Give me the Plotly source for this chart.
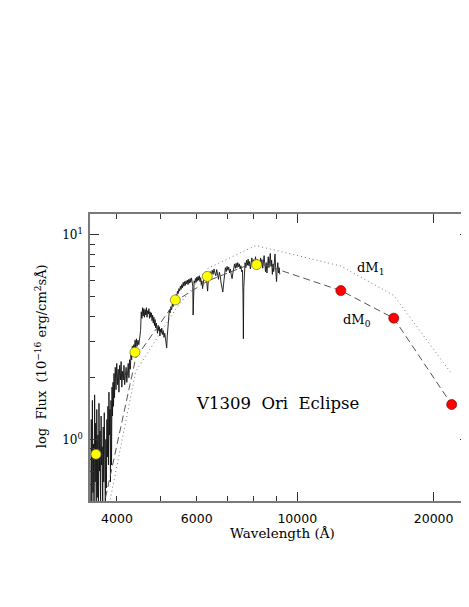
import numpy as np
import plotly.graph_objects as go

# Spectrum of V1309 Ori in eclipse
# wavelength (Angstrom) / flux (1e-16 erg/cm2/s/A)
spec_wl = [
    3500, 3510, 3520, 3530, 3540, 3550, 3560, 3570, 3580, 3590,
    3600, 3610, 3620, 3630, 3640, 3650, 3660, 3670, 3680, 3690,
    3700, 3710, 3720, 3730, 3740, 3750, 3760, 3770, 3780, 3790,
    3800, 3810, 3820, 3830, 3840, 3850, 3860, 3870, 3880, 3890,
    3900, 3910, 3920, 3930, 3940, 3950,
    3965, 3980, 3995, 4010, 4025, 4040, 4055, 4070, 4085, 4100,
    4115, 4130, 4145, 4160, 4175, 4190, 4205, 4220, 4235, 4250,
    4265, 4280, 4295, 4310, 4325, 4340, 4355, 4370, 4385, 4400,
    4415, 4430, 4450, 4470, 4490,
    4510, 4525, 4540, 4555, 4570, 4585, 4600, 4615, 4630, 4645,
    4660, 4675, 4690, 4705, 4720, 4735, 4750, 4765, 4780, 4795,
    4810, 4825, 4840, 4855, 4870, 4885, 4900, 4915, 4930, 4945,
    4960, 4975, 4990, 5005, 5020, 5040, 5060, 5080, 5100, 5120,
    5140, 5150, 5165, 5180, 5200, 5220, 5240, 5260, 5280, 5300,
    5320, 5340,
    5360, 5380, 5400, 5420, 5440, 5460, 5480, 5500, 5520, 5540,
    5560, 5580, 5600, 5620, 5640, 5660, 5680, 5700, 5720, 5740,
    5760, 5780, 5800, 5820, 5840, 5860, 5880, 5890, 5900, 5920,
    5940, 5960, 5980, 6000, 6020, 6040, 6060, 6080, 6100, 6120,
    6140, 6160, 6180, 6200, 6220, 6240, 6260, 6280, 6300,
    6320, 6340, 6360, 6380, 6400, 6430, 6460, 6490, 6520, 6550,
    6580, 6610, 6640, 6670, 6700, 6730, 6760, 6790, 6820, 6850,
    6880, 6910, 6940, 6970, 7000, 7030, 7060, 7090, 7120, 7150,
    7180, 7210, 7240, 7270, 7300, 7330, 7360, 7390, 7420, 7450,
    7480, 7510, 7540, 7570, 7590, 7605, 7620, 7640, 7670,
    7700, 7730, 7760, 7790, 7820, 7850, 7880, 7910, 7940, 7970,
    8000, 8030, 8060, 8090, 8120, 8150, 8180, 8210, 8240, 8270,
    8300, 8330, 8360, 8390, 8420, 8450, 8480, 8510, 8540, 8570,
    8600, 8630, 8660, 8690, 8720, 8750, 8780, 8810, 8840, 8870,
    8900, 8930, 8960, 9000, 9030, 9060, 9090, 9120, 9150,
]
spec_flux = [
    0.48, 1.25, 0.42, 1.55, 0.55, 0.95, 0.40, 1.65, 0.62, 1.20,
    0.45, 1.40, 0.52, 1.05, 0.42, 1.50, 0.70, 1.10, 0.44, 1.30,
    0.75, 0.92, 0.46, 1.15, 0.62, 1.35, 0.80, 0.48, 1.00, 0.58,
    1.25, 0.82, 1.45, 0.75, 1.70, 1.05, 1.40, 0.62, 1.55, 0.75,
    1.80, 1.30, 1.90, 1.45, 2.10, 1.60,
    2.25, 1.75, 2.35, 1.85, 2.20, 1.70, 2.30, 1.95, 2.40, 1.80,
    2.15, 1.95, 2.30, 1.85, 2.05, 2.25, 1.90, 2.10, 2.35, 2.00,
    2.45, 2.20, 2.60, 2.45, 2.85, 2.55, 2.90, 2.70, 3.05, 2.80,
    3.10, 2.85, 3.05, 2.90, 3.10,
    3.40, 4.20, 3.90, 4.40, 4.00, 4.35, 3.95, 4.30, 4.05, 4.40,
    3.95, 4.25, 4.10, 4.35, 3.90, 4.20, 3.95, 4.15, 3.80, 4.05,
    3.70, 3.95, 3.60, 3.85, 3.50, 3.70, 3.55, 3.30, 3.60, 3.40,
    3.55, 3.20, 3.45, 3.30, 3.50, 3.25, 3.40, 3.15, 3.30, 3.00,
    2.95, 2.80, 3.20, 3.60, 3.95, 4.30, 4.15, 4.45, 4.30, 4.60,
    4.45, 4.75,
    4.95, 4.80, 5.10, 5.00, 5.30, 5.15, 5.45, 5.30, 5.60, 5.40,
    5.70, 5.50, 5.85, 5.60, 5.90, 5.65, 5.95, 5.75, 6.00, 5.70,
    6.05, 5.80, 6.10, 5.85, 6.15, 5.90, 5.60, 4.05, 5.50, 5.95,
    5.80, 6.10, 5.85, 6.20, 5.95, 6.25, 6.00, 6.30, 5.90, 6.15,
    5.70, 5.95, 5.45, 5.75, 6.05, 6.35, 6.10, 6.45, 6.15,
    5.50, 5.30, 5.90, 6.40, 6.20, 6.60, 6.30, 6.70, 6.40, 6.80,
    6.50, 6.30, 6.75, 6.45, 6.05, 6.55, 6.30, 5.80, 5.40, 5.25,
    5.80, 6.50, 6.90, 6.60, 7.00, 6.70, 6.95, 6.50, 6.80, 6.35,
    6.10, 6.50, 6.90, 7.20, 6.85, 7.25, 6.90, 7.30, 6.95, 7.20,
    6.80, 7.05, 6.60, 6.70, 5.00, 3.10, 5.50, 6.80, 7.30,
    6.90, 7.50, 7.10, 7.60, 7.05, 7.40, 6.80, 7.30, 7.70, 7.20,
    7.55, 7.00, 7.45, 7.80, 7.25, 7.60, 7.10, 7.45, 6.90, 7.35,
    7.70, 7.15, 7.55, 6.85, 7.40, 7.90, 7.20, 6.60, 7.30, 6.50,
    7.10, 7.80, 6.90, 7.60, 8.10, 7.00, 7.50, 6.40, 7.20, 6.60,
    7.40, 8.05, 6.90, 5.90, 6.80, 7.30, 6.50, 6.90, 6.40,
]

# photometry: optical (yellow) and near-IR (red)
opt_wl = [3595, 4383, 5381, 6330, 8135]
opt_flux = [0.846, 2.665, 4.80, 6.25, 7.14]
ir_wl = [12480, 16330, 21920]
ir_flux = [5.33, 3.91, 1.48]

# model SEDs
model_wl = [3600, 4400, 5400, 6350, 8100, 12480, 16330, 21920]
dm0_flux = [0.32, 2.50, 4.75, 5.95, 7.35, 5.33, 3.91, 1.48]
dm1_flux = [0.23, 2.15, 4.35, 6.85, 8.85, 7.03, 5.05, 2.09]

x_ticks = [4000, 6000, 10000, 20000]
x_minor = [5000, 7000, 8000, 9000]
y_ticks = [1, 10]
y_ticktext = ["10<sup>0</sup>", "10<sup>1</sup>"]
y_minor = [0.6, 0.7, 0.8, 0.9, 2, 3, 4, 5, 6, 7, 8, 9]

X_RANGE = [3.5425, 4.3791]
Y_RANGE = [np.log10(0.5), 1.101]

AXIS_COLOR = "#7a7a7a"
TICK_COLOR = "#333333"
SERIF = "DejaVu Serif"

fig = go.Figure()

# spectrum
fig.add_trace(go.Scatter(
    x=spec_wl, y=spec_flux, mode="lines",
    line=dict(color="#111111", width=0.9), showlegend=False
))

# dM0 model (dashed)
fig.add_trace(go.Scatter(
    x=model_wl, y=dm0_flux, mode="lines",
    line=dict(color="#555555", width=1, dash="7px,4px"), showlegend=False
))

# dM1 model (dotted)
fig.add_trace(go.Scatter(
    x=model_wl, y=dm1_flux, mode="lines",
    line=dict(color="#777777", width=1, dash="1px,3px"), showlegend=False
))

# photometric points
fig.add_trace(go.Scatter(
    x=opt_wl, y=opt_flux, mode="markers",
    marker=dict(color="#ffff00", size=10, line=dict(color="#6b6b30", width=0.7)),
    showlegend=False
))
fig.add_trace(go.Scatter(
    x=ir_wl, y=ir_flux, mode="markers",
    marker=dict(color="#ff0000", size=10, line=dict(color="#7a1010", width=0.7)),
    showlegend=False
))

# empty traces to hold the extra tick axes
fig.add_trace(go.Scatter(x=[], y=[], xaxis="x2", yaxis="y", showlegend=False))
fig.add_trace(go.Scatter(x=[], y=[], xaxis="x", yaxis="y2", showlegend=False))

# Labels
fig.add_annotation(
    text="V1309\u00a0 Ori\u00a0 Eclipse", xref="paper", yref="paper",
    x=0.4947, y=0.338, showarrow=False, xanchor="center", yanchor="middle",
    font=dict(family=SERIF, size=16.5, color="black")
)
fig.add_annotation(
    text="dM<sub>1</sub>", xref="paper", yref="paper",
    x=0.739, y=0.81, showarrow=False, xanchor="center", yanchor="middle",
    font=dict(family=SERIF, size=13, color="black")
)
fig.add_annotation(
    text="dM<sub>0</sub>", xref="paper", yref="paper",
    x=0.704, y=0.629, showarrow=False, xanchor="center", yanchor="middle",
    font=dict(family=SERIF, size=13, color="black")
)

# axis titles
fig.add_annotation(
    text="Wavelength (Å)", xref="paper", yref="paper",
    x=0.509, y=-0.11, showarrow=False, xanchor="center", yanchor="middle",
    font=dict(family=SERIF, size=13.5, color="black")
)
fig.add_annotation(
    text="log\u00a0 Flux\u00a0 (10<sup>\u221216</sup> erg/cm<sup>2</sup>sÅ)",
    xref="paper", yref="paper", textangle=-90,
    x=-0.129, y=0.505, showarrow=False, xanchor="center", yanchor="middle",
    font=dict(family=SERIF, size=13, color="black")
)

# Axes
fig.update_layout(
    xaxis=dict(
        type="log", range=X_RANGE, tickmode="array", tickvals=x_ticks,
        ticktext=[str(v) for v in x_ticks], ticks="inside", ticklen=5,
        tickwidth=1, tickcolor=TICK_COLOR, showline=True, linecolor=AXIS_COLOR,
        linewidth=1.5, mirror="ticks", showgrid=False, zeroline=False,
        ticklabelstandoff=5,
        minor=dict(tickvals=x_minor, ticks="inside", ticklen=5,
                   tickcolor=TICK_COLOR, showgrid=False),
        tickfont=dict(family="DejaVu Sans", size=12.5, color="black"),
    ),
    xaxis2=dict(
        type="log", range=X_RANGE, overlaying="x", anchor="y", side="bottom",
        tickmode="array", tickvals=[10000, 20000], ticks="inside", ticklen=9,
        tickcolor=TICK_COLOR, showticklabels=False, showline=True,
        linecolor=AXIS_COLOR, linewidth=1.5, mirror="ticks", showgrid=False,
        zeroline=False,
    ),
    yaxis=dict(
        type="log", range=Y_RANGE, tickmode="array", tickvals=y_ticks,
        ticktext=y_ticktext, ticks="inside", ticklen=9, tickwidth=1,
        tickcolor=TICK_COLOR, showline=True, linecolor=AXIS_COLOR,
        linewidth=1.5, showgrid=False, zeroline=False, ticklabelstandoff=3,
        minor=dict(tickvals=y_minor, ticks="inside", ticklen=5,
                   tickcolor=TICK_COLOR, showgrid=False),
        tickfont=dict(family=SERIF, size=12, color="black"),
    ),
    yaxis2=dict(
        type="log", range=Y_RANGE, overlaying="y", anchor="x", side="right",
        tickmode="array", tickvals=y_ticks, ticks="inside", ticklen=9,
        tickcolor=TICK_COLOR, showticklabels=False, showline=False,
        showgrid=False, zeroline=False,
        minor=dict(tickvals=y_minor, ticks="inside", ticklen=5,
                   tickcolor=TICK_COLOR, showgrid=False),
    ),
    # page body adds an 8px margin, so the figure is sized/shifted for it
    width=461,
    height=591,
    margin=dict(l=82, r=0, t=206, b=98),
    plot_bgcolor="white",
    paper_bgcolor="white",
    showlegend=False,
)

fig.write_html("out.html")
